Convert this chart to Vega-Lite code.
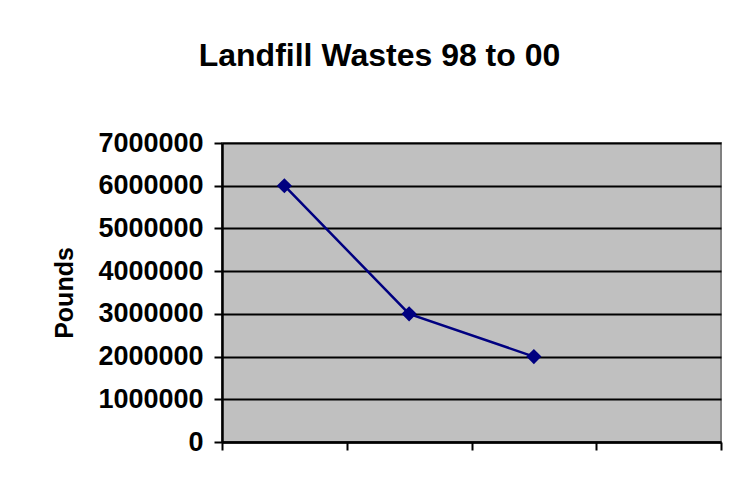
{
  "$schema": "https://vega.github.io/schema/vega-lite/v6.json",
  "width": 499,
  "height": 299,
  "autosize": {"type": "none"},
  "padding": {"left": 222, "top": 143, "right": 21, "bottom": 62},
  "background": "white",
  "title": {
    "text": "Landfill Wastes 98 to 00",
    "font": "Liberation Sans",
    "fontSize": 32,
    "fontWeight": "bold",
    "color": "black",
    "anchor": "middle",
    "frame": "group",
    "dx": -92,
    "offset": 56
  },
  "data": {
    "values": [
      {"year": "98", "pounds": 6000000},
      {"year": "99", "pounds": 3000000},
      {"year": "00", "pounds": 2000000}
    ]
  },
  "mark": {
    "type": "line",
    "color": "#000080",
    "strokeWidth": 2.5,
    "point": {"shape": "diamond", "size": 230, "filled": true, "color": "#000080", "opacity": 1}
  },
  "encoding": {
    "x": {
      "field": "year",
      "type": "ordinal",
      "sort": null,
      "scale": {"type": "band", "domain": ["98", "99", "00", "01"], "paddingInner": 0, "paddingOuter": 0},
      "axis": {
        "title": null,
        "labels": false,
        "tickBand": "extent",
        "ticks": true,
        "tickSize": 8,
        "tickColor": "black",
        "tickWidth": 2,
        "domainColor": "black",
        "domainWidth": 2.5,
        "grid": false
      }
    },
    "y": {
      "field": "pounds",
      "type": "quantitative",
      "scale": {"domain": [0, 7000000], "nice": false},
      "axis": {
        "title": "Pounds",
        "titleFont": "Liberation Sans",
        "titleFontSize": 25,
        "titleFontWeight": "bold",
        "titleColor": "black",
        "titlePadding": 20,
        "values": [0, 1000000, 2000000, 3000000, 4000000, 5000000, 6000000, 7000000],
        "format": "d",
        "labelFont": "Liberation Sans",
        "labelFontSize": 27,
        "labelFontWeight": "bold",
        "labelColor": "black",
        "labelPadding": 11,
        "tickSize": 8,
        "tickColor": "black",
        "tickWidth": 2,
        "domainColor": "black",
        "domainWidth": 2.5,
        "grid": true,
        "gridColor": "black",
        "gridWidth": 2,
        "gridOpacity": 1
      }
    }
  },
  "config": {
    "view": {"fill": "#c0c0c0", "stroke": "#808080", "strokeWidth": 2}
  }
}
